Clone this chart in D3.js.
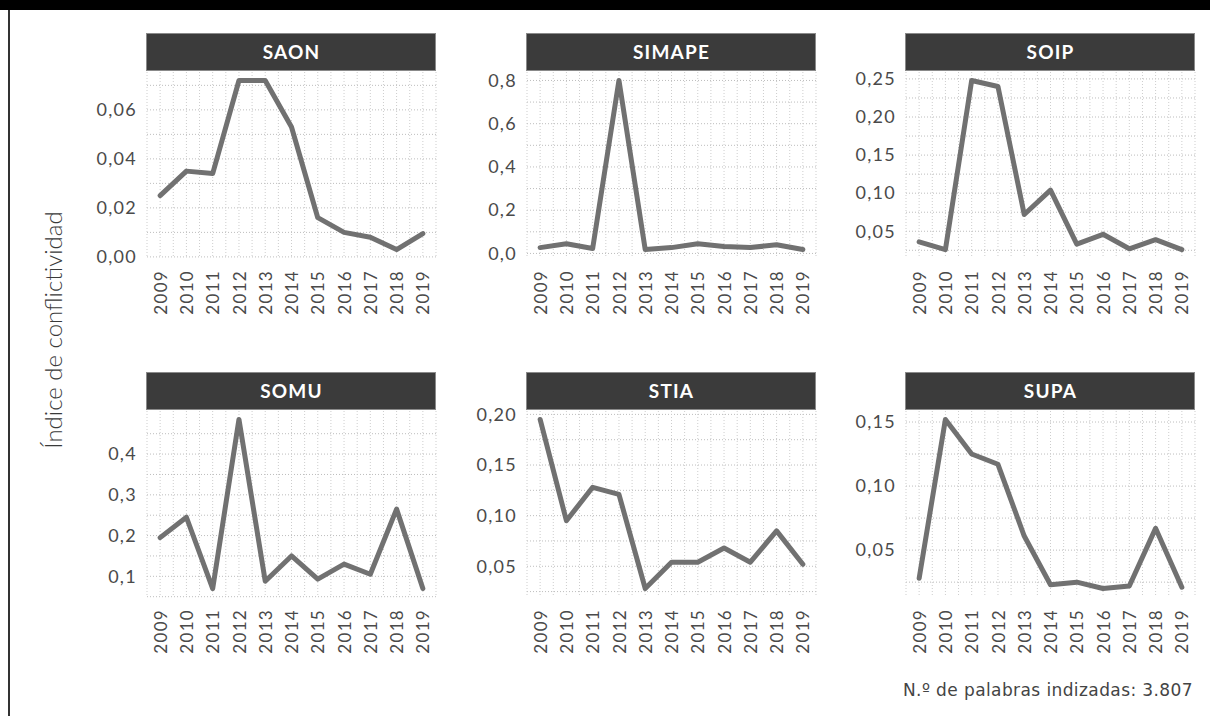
<!DOCTYPE html>
<html><head><meta charset="utf-8">
<script src="https://cdn.jsdelivr.net/npm/d3@7"></script>
<style>
html,body{margin:0;padding:0;background:#fff;}
svg{display:block;}
</style></head>
<body>
<svg id="chart" width="1210" height="716"></svg>
<script>
// ---------- data ----------
const years = [2009, 2010, 2011, 2012, 2013, 2014, 2015, 2016, 2017, 2018, 2019];
const yearLabels = ["2009","2010","2011","2012","2013","2014","2015","2016","2017","2018","2019"];
const panelNames = ["SAON", "SIMAPE", "SOIP", "SOMU", "STIA", "SUPA"];

const saon   = [0.025, 0.035, 0.034, 0.072, 0.072, 0.053, 0.016, 0.010, 0.008, 0.003, 0.0095];
const simape = [0.027, 0.045, 0.023, 0.800, 0.018, 0.027, 0.045, 0.032, 0.027, 0.040, 0.018];
const soip   = [0.036, 0.026, 0.248, 0.240, 0.072, 0.104, 0.033, 0.046, 0.027, 0.039, 0.026];
const somu   = [0.195, 0.245, 0.070, 0.485, 0.088, 0.150, 0.093, 0.130, 0.105, 0.265, 0.070];
const stia   = [0.195, 0.095, 0.128, 0.121, 0.028, 0.054, 0.054, 0.068, 0.054, 0.085, 0.052];
const supa   = [0.028, 0.152, 0.125, 0.117, 0.061, 0.023, 0.025, 0.020, 0.022, 0.067, 0.021];

const saonTicks   = [0, 0.02, 0.04, 0.06];
const simapeTicks = [0, 0.2, 0.4, 0.6, 0.8];
const soipTicks   = [0.05, 0.10, 0.15, 0.20, 0.25];
const somuTicks   = [0.1, 0.2, 0.3, 0.4];
const stiaTicks   = [0.05, 0.10, 0.15, 0.20];
const supaTicks   = [0.05, 0.10, 0.15];

const saonLabels   = ["0,00", "0,02", "0,04", "0,06"];
const simapeLabels = ["0,0", "0,2", "0,4", "0,6", "0,8"];
const soipLabels   = ["0,05", "0,10", "0,15", "0,20", "0,25"];
const somuLabels   = ["0,1", "0,2", "0,3", "0,4"];
const stiaLabels   = ["0,05", "0,10", "0,15", "0,20"];
const supaLabels   = ["0,05", "0,10", "0,15"];

const yTitle = "Índice de conflictividad";
const footer = "N.º de palabras indizadas: 3.807";

// ---------- build panels ----------
const series = [saon, simape, soip, somu, stia, supa];
const ticks = [saonTicks, simapeTicks, soipTicks, somuTicks, stiaTicks, supaTicks];
const tickLabels = [saonLabels, simapeLabels, soipLabels, somuLabels, stiaLabels, supaLabels];

const svg = d3.select("#chart");

// frame: black top band + left rule
svg.append("rect").attr("x", 0).attr("y", 0).attr("width", 1210).attr("height", 10).attr("fill", "#000");
svg.append("rect").attr("x", 8).attr("y", 10).attr("width", 2).attr("height", 706).attr("fill", "#333");

const colX = [147, 527, 906];
const plotW = 289;
const stripTop = [33, 372];
const stripH = 37;
const plotTopOff = 39;
const plotH = 186;

const tickFont = "Lato, 'Open Sans', sans-serif";

panelNames.forEach((name, i) => {
  const col = i % 3, row = Math.floor(i / 3);
  const x0 = colX[col];
  const sTop = stripTop[row];
  const pTop = sTop + plotTopOff;
  const vals = series[i];

  const xExt = d3.extent(years);
  const xPad = (xExt[1] - xExt[0]) * 0.05;
  const x = d3.scaleLinear().domain([xExt[0] - xPad, xExt[1] + xPad]).range([x0, x0 + plotW]);
  const yExt = d3.extent(vals);
  const yPad = (yExt[1] - yExt[0]) * 0.05;
  const y = d3.scaleLinear().domain([yExt[0] - yPad, yExt[1] + yPad]).range([pTop + plotH, pTop]);

  const g = svg.append("g");

  // grid: minor + major, dotted
  const tk = ticks[i];
  const step = tk[1] - tk[0];
  const hLines = [];
  for (let k = 0; k < tk.length; k++) hLines.push(tk[k]);
  for (let k = -1; k < tk.length; k++) hLines.push(tk[0] + step * (k + 0.5));
  const [d0, d1] = y.domain();
  hLines.filter(v => v >= d0 && v <= d1).forEach(v => {
    g.append("line").attr("x1", x0).attr("x2", x0 + plotW)
      .attr("y1", y(v)).attr("y2", y(v))
      .attr("stroke", "#bdbdbd").attr("stroke-width", 1).attr("stroke-dasharray", "1,2");
  });
  const vLines = [];
  years.forEach(yr => { vLines.push(yr); vLines.push(yr + 0.5); });
  vLines.push(years[0] - 0.5);
  vLines.filter(v => v >= x.domain()[0] && v <= x.domain()[1]).forEach(v => {
    g.append("line").attr("x1", x(v)).attr("x2", x(v))
      .attr("y1", pTop).attr("y2", pTop + plotH)
      .attr("stroke", "#cdcdcd").attr("stroke-width", 1).attr("stroke-dasharray", "1,2");
  });

  // strip
  g.append("rect").attr("x", x0 - 0.5).attr("y", sTop + 0.5).attr("width", plotW).attr("height", stripH)
    .attr("fill", "#3b3b3b").attr("stroke", "#8a8a8a").attr("stroke-width", 1);
  g.append("text").attr("x", x0 + plotW / 2).attr("y", sTop + stripH / 2 + 7)
    .attr("text-anchor", "middle").attr("fill", "#fff")
    .attr("font-family", tickFont).attr("font-weight", 700).attr("font-size", 19)
    .attr("letter-spacing", 1.2).text(name);

  // y axis
  const yAxis = d3.axisLeft(y).tickValues(tk).tickSize(0).tickPadding(10)
    .tickFormat((d, j) => tickLabels[i][j]);
  const ya = g.append("g").attr("transform", `translate(${x0},0)`).call(yAxis);
  ya.select(".domain").remove();
  ya.selectAll("text").attr("font-family", tickFont).attr("font-size", 18)
    .attr("letter-spacing", 1.3).attr("fill", "#4a4a4a");

  // x axis
  const xAxis = d3.axisBottom(x).tickValues(years).tickSize(0).tickPadding(0)
    .tickFormat((d, j) => yearLabels[j]);
  const xa = g.append("g").attr("transform", `translate(0,${pTop + plotH})`).call(xAxis);
  xa.select(".domain").remove();
  xa.selectAll("text")
    .attr("font-family", tickFont).attr("font-size", 17).attr("letter-spacing", 1.3)
    .attr("fill", "#4a4a4a")
    .attr("text-anchor", "end").attr("transform", "rotate(-90)")
    .attr("x", -12).attr("y", 0).attr("dy", "0.36em");

  // line
  const line = d3.line().x((d, j) => x(years[j])).y(d => y(d));
  g.append("path").datum(vals).attr("d", line)
    .attr("fill", "none").attr("stroke", "#717171").attr("stroke-width", 5)
    .attr("stroke-linejoin", "round").attr("stroke-linecap", "round");
});

// y title
svg.append("text").attr("transform", "translate(62,330) rotate(-90)")
  .attr("text-anchor", "middle").attr("font-family", tickFont).attr("font-weight", 300)
  .attr("font-size", 24).attr("fill", "#3a3a3a").text(yTitle);

// footer
svg.append("text").attr("x", 1193).attr("y", 696).attr("text-anchor", "end")
  .attr("font-family", "'DejaVu Sans', sans-serif").attr("font-size", 17).attr("letter-spacing", 0.4)
  .attr("fill", "#444").text(footer);
</script>
</body></html>
